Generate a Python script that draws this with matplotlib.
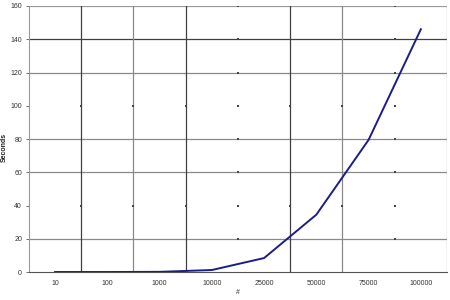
import numpy as np
import matplotlib
matplotlib.use('Agg')
import matplotlib.pyplot as plt

# data
categories = ['10', '100', '1000', '10000', '25000', '50000', '75000', '100000']
seconds = [0.0, 0.0, 0.1, 1.2, 8.4, 34.5, 79.5, 146.0]
y_ticks = [0, 20, 40, 60, 80, 100, 120, 140, 160]

plt.rcParams['font.family'] = 'Liberation Sans'

fig = plt.figure(figsize=(4.5, 3), dpi=100)
ax = fig.add_axes([0.0644, 0.0933, 0.9289, 0.8867])

x = np.arange(len(categories))

# gridlines (the reference shows some as full lines, some only as tick dots)
for yv, col in [(20, '#8a8a8a'), (60, '#8a8a8a'), (80, '#8a8a8a'),
                (120, '#8a8a8a'), (140, '#404040'), (160, '#9a9a9a')]:
    ax.axhline(yv, color=col, lw=0.9, zorder=1)
for xv, col in [(0.5, '#404040'), (1.5, '#8a8a8a'), (2.5, '#404040'),
                (4.5, '#404040'), (5.5, '#8a8a8a'), (7.5, '#9a9a9a')]:
    ax.axvline(xv, color=col, lw=0.9, zorder=1)

# small tick dots where gridlines are faint
bx = np.arange(len(categories) - 1) + 0.5
for yv in [40, 100]:
    ax.scatter(bx, [yv] * len(bx), marker='s', s=1.2, color='#444444', lw=0, zorder=2)
for xv in [3.5, 6.5]:
    ax.scatter([xv] * (len(y_ticks) - 1), y_ticks[1:], marker='s', s=1.2,
               color='#444444', lw=0, zorder=2)

ax.plot(x, seconds, color='#1c1c8a', lw=1.4, zorder=3)

ax.set_xlim(-0.5, 7.5)
ax.set_ylim(0, 160)
ax.set_xticks(x)
ax.set_xticklabels(categories)
ax.set_yticks(y_ticks)
ax.tick_params(axis='both', length=2, width=0.6, colors='#555555', labelsize=5,
               labelcolor='#333333', pad=3)
ax.tick_params(axis='x', length=0, pad=6)

for s in ['top', 'right']:
    ax.spines[s].set_visible(False)
ax.spines['left'].set_color('#999999')
ax.spines['bottom'].set_color('#555555')

ax.set_ylabel('Seconds', fontsize=5, color='#222222', fontweight='bold')
ax.yaxis.set_label_coords(-0.05, 0.47)
ax.set_xlabel('#', fontsize=5, color='#333333')
ax.xaxis.set_label_coords(0.5, -0.065)

fig.savefig('out.png', dpi=100)
